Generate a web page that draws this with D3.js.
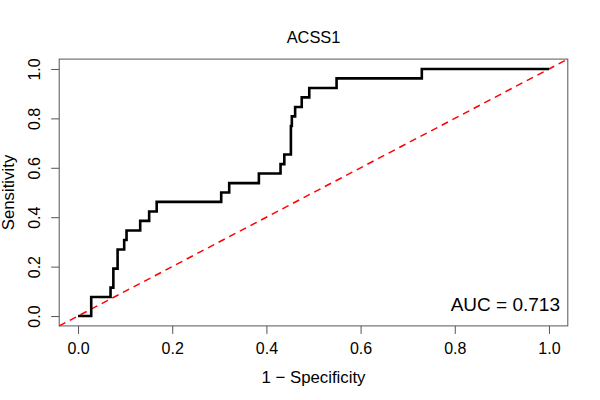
<!DOCTYPE html>
<html>
<head>
<meta charset="utf-8">
<script src="https://cdn.jsdelivr.net/npm/d3@7"></script>
<style>
  body { margin: 0; background: #fff; }
  svg text { font-family: "Liberation Sans", Arial, sans-serif; fill: #000; }
</style>
</head>
<body>
<div id="chart"></div>
<script>
// ROC curve vertices: start of each horizontal run
var fpr = [ 0, 0.028, 0.069, 0.075, 0.084, 0.098, 0.103, 0.132, 0.151, 0.167,
	0.304, 0.321, 0.384, 0.430, 0.438, 0.452, 0.454, 0.461, 0.475, 0.491,
	0.549, 0.730, 1.0 ];
var tpr = [ 0, 0.077, 0.115, 0.192, 0.269, 0.308, 0.346, 0.385, 0.423, 0.462,
	0.500, 0.538, 0.577, 0.615, 0.654, 0.769, 0.808, 0.846, 0.885, 0.923,
	0.962, 1.0, 1.0 ];
var xTicks = [ 0, 0.2, 0.4, 0.6, 0.8, 1.0 ];
var yTicks = [ 0, 0.2, 0.4, 0.6, 0.8, 1.0 ];
var title = "ACSS1";
var xLabel = "1 \u2212 Specificity";
var yLabel = "Sensitivity";
var aucLabel = "AUC = 0.713";

var width = 600, height = 400;
var mLeft = 59.2, mRight = 567.8, mTop = 59.1, mBottom = 325.9;

var xScale = d3.scaleLinear().domain( [ -0.04, 1.04 ] ).range( [ mLeft, mRight ] );
var yScale = d3.scaleLinear().domain( [ -0.04, 1.04 ] ).range( [ mBottom, mTop ] );

var svg = d3.select( "#chart" ).append( "svg" )
	.attr( "width", width )
	.attr( "height", height );

// x axis
svg.append( "g" )
	.attr( "transform", `translate(0, ${ mBottom } )` )
	.call( d3.axisBottom( xScale ).tickValues( xTicks ).tickFormat( d3.format( ".1f" ) )
		.tickSize( 8 ) )
	.call( g => g.select( ".domain" ).remove() )
	.call( g => g.selectAll( "line" ).attr( "stroke", "#555" ) )
	.call( g => g.selectAll( "text" ).style( "font-size", "16px" ).attr( "dy", null )
		.attr( "y", 28.5 ) );

// y axis, labels parallel to the axis
svg.append( "g" )
	.attr( "transform", `translate( ${ mLeft } , 0 )` )
	.call( d3.axisLeft( yScale ).tickValues( yTicks ).tickFormat( d3.format( ".1f" ) )
		.tickSize( 8 ) )
	.call( g => g.select( ".domain" ).remove() )
	.call( g => g.selectAll( "line" ).attr( "stroke", "#555" ) )
	.call( g => g.selectAll( "text" )
		.style( "font-size", "16px" )
		.attr( "x", null ).attr( "dy", null )
		.attr( "text-anchor", "middle" )
		.attr( "transform", "translate(-19.5,0) rotate(-90)" ) );

// diagonal reference line
svg.append( "line" )
	.attr( "x1", xScale( -0.04 ) ).attr( "y1", yScale( -0.04 ) )
	.attr( "x2", xScale( 1.04 ) ).attr( "y2", yScale( 1.04 ) )
	.attr( "stroke", "#ff0000" )
	.attr( "stroke-width", 1.5 )
	.attr( "stroke-dasharray", "7,5" );

// ROC curve
var points = fpr.map( function ( f, i ) { return [ f, tpr[ i ] ]; } );
svg.append( "path" )
	.datum( points )
	.attr( "fill", "none" )
	.attr( "stroke", "#000" )
	.attr( "stroke-width", 2.6 )
	.attr( "d", d3.line()
		.x( d => xScale( d[0] ) )
		.y( d => yScale( d[1] ) )
		.curve( d3.curveStepAfter ) );

// plot box
svg.append( "rect" )
	.attr( "x", mLeft ).attr( "y", mTop )
	.attr( "width", mRight - mLeft ).attr( "height", mBottom - mTop )
	.attr( "fill", "none" )
	.attr( "stroke", "#555" )
	.attr( "stroke-width", 1 );

svg.append( "text" )
	.attr( "x", ( mLeft + mRight ) / 2 )
	.attr( "y", 43 )
	.attr( "text-anchor", "middle" )
	.style( "font-size", "16.4px" )
	.text( title );

svg.append( "text" )
	.attr( "x", ( mLeft + mRight ) / 2 )
	.attr( "y", 383 )
	.attr( "text-anchor", "middle" )
	.style( "font-size", "16.8px" )
	.text( xLabel );

svg.append( "text" )
	.attr( "transform", `translate(13.5, ${ ( mTop + mBottom ) / 2 }) rotate(-90)` )
	.attr( "text-anchor", "middle" )
	.style( "font-size", "16.8px" )
	.text( yLabel );

svg.append( "text" )
	.attr( "x", 560 )
	.attr( "y", 310.5 )
	.attr( "text-anchor", "end" )
	.style( "font-size", "19px" )
	.text( aucLabel );
</script>
</body>
</html>
